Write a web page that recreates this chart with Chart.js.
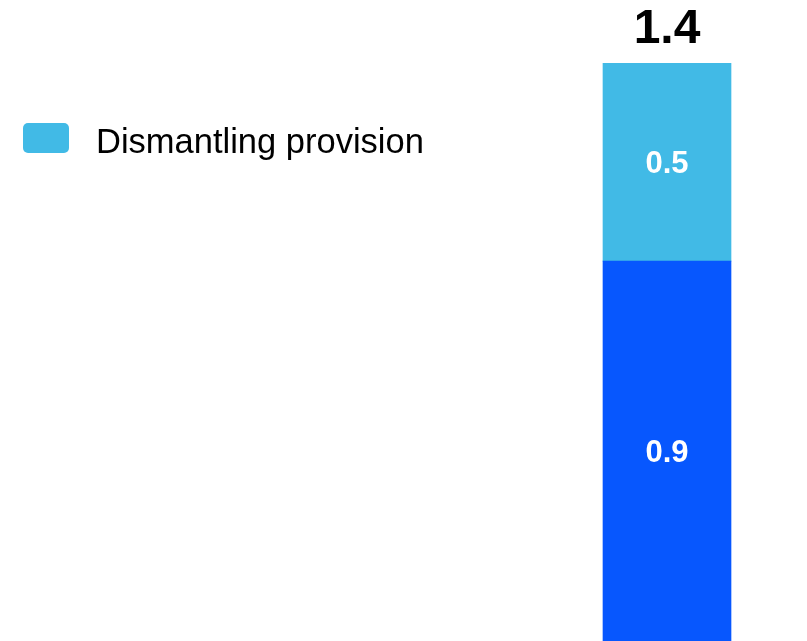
<!DOCTYPE html>
<html>
<head>
<meta charset="utf-8">
<script src="https://cdn.jsdelivr.net/npm/chart.js@4"></script>
<style>
  html, body { margin: 0; padding: 0; background: #fff; }
  body { width: 807px; height: 641px; position: relative; overflow: hidden;
         font-family: "Liberation Sans", Arial, sans-serif; }
  #wrap { position: absolute; left: 0; top: 0; width: 807px; height: 641px; }
  .legend { position: absolute; left: 23px; top: 118px; height: 40px; }
  .legend .sw { position: absolute; left: 0; top: 5px; width: 46px; height: 30px; border-radius: 5px; background: #41BAE6; }
  .legend .lbl { position: absolute; left: 73px; top: 3px; white-space: nowrap; font-size: 34.5px; color: #000; line-height: 40px; }
</style>
</head>
<body>
<div id="wrap"><canvas id="chart"></canvas></div>
<div class="legend"><div class="sw"></div><div class="lbl">Dismantling provision</div></div>
<script>
/* ── data ─────────────────────────────────────────────── */
const categories   = [""];
const seriesNames  = ["Base", "Dismantling provision"];
const baseValues   = [0.92];
const dismantling  = [0.48];
const seriesColors = ["#0757FE", "#41BAE6"];

/* labels drawn inside each segment + total on top */
const barLabels = {
  id: "barLabels",
  afterDatasetsDraw(chart) {
    const ctx = chart.ctx;
    ctx.save();
    ctx.textAlign = "center";
    ctx.fillStyle = "#fff";
    ctx.font = "bold 31px 'Liberation Sans', Arial, sans-serif";
    ctx.textBaseline = "middle";
    chart.data.datasets.forEach((ds, di) => {
      chart.getDatasetMeta(di).data.forEach((bar, i) => {
        const mid = (bar.y + bar.base) / 2;
        ctx.fillText(ds.data[i].toFixed(1), bar.x, mid + 2);
      });
    });
    // total
    const last = chart.getDatasetMeta(chart.data.datasets.length - 1).data;
    last.forEach((bar, i) => {
      const total = chart.data.datasets.reduce((s, ds) => s + ds.data[i], 0);
      ctx.fillStyle = "#000";
      ctx.font = "bold 48px 'Liberation Sans', Arial, sans-serif";
      ctx.textBaseline = "alphabetic";
      ctx.fillText(total.toFixed(1), bar.x, bar.y - 20);
    });
    ctx.restore();
  },
};

new Chart(document.getElementById("chart"), {
  type: "bar",
  data: {
    labels: categories,
    datasets: [
      { label: seriesNames[0], data: baseValues,  backgroundColor: seriesColors[0], barThickness: 128 },
      { label: seriesNames[1], data: dismantling, backgroundColor: seriesColors[1], barThickness: 128 },
    ],
  },
  options: {
    responsive: true,
    maintainAspectRatio: false,
    animation: false,
    layout: { padding: { left: 527, right: 0, top: 63, bottom: 0 } },
    plugins: { legend: { display: false }, tooltip: { enabled: false } },
    scales: {
      x: { stacked: true, display: false },
      y: { stacked: true, display: false, min: 0, max: 1.4 },
    },
  },
  plugins: [barLabels],
});
</script>
</body>
</html>
